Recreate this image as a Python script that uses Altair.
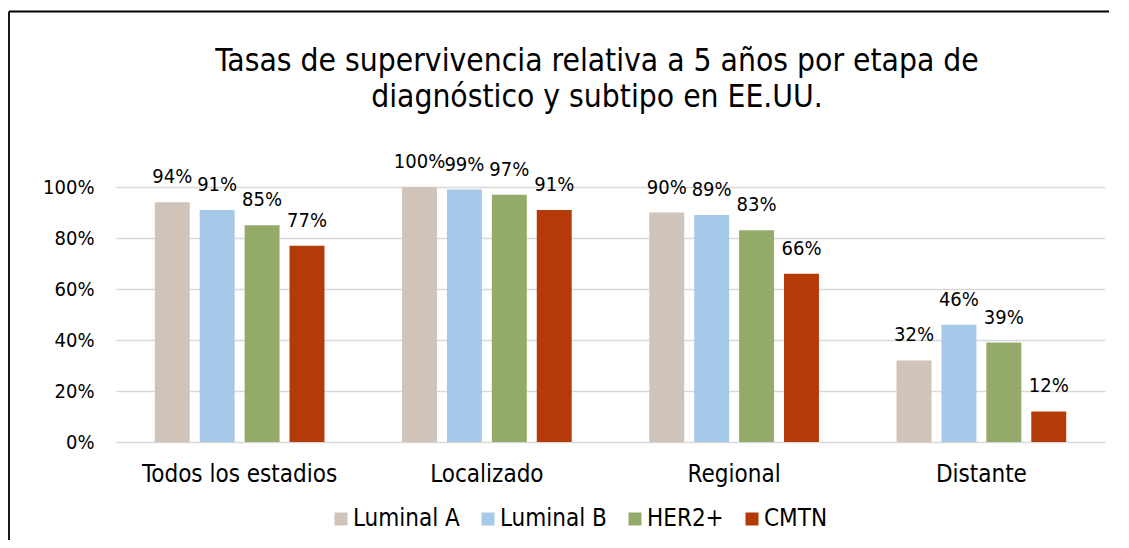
import altair as alt
import pandas as pd

categories = ["Todos los estadios", "Localizado", "Regional", "Distante"]
series = ["Luminal A", "Luminal B", "HER2+", "CMTN"]
colors = ["#D0C3BA", "#A6C9EA", "#94AA68", "#B43A08"]
luminal_a = [0.94, 1.00, 0.90, 0.32]
luminal_b = [0.91, 0.99, 0.89, 0.46]
her2 = [0.85, 0.97, 0.83, 0.39]
cmtn = [0.77, 0.91, 0.66, 0.12]
title_lines = ["Tasas de supervivencia relativa a 5 años por etapa de",
               "diagnóstico y subtipo en EE.UU."]

rows = []
for s, vals in zip(series, [luminal_a, luminal_b, her2, cmtn]):
    for c, v in zip(categories, vals):
        rows.append({"etapa": c, "subtipo": s, "valor": v})
df = pd.DataFrame(rows)

FONT = "DejaVu Sans Condensed"
W, H = 989, 255
PAD = {"left": 108, "top": 179, "right": 4, "bottom": 98}

base = alt.Chart(df)

x = alt.X("etapa:N", sort=categories, title=None,
          scale=alt.Scale(paddingInner=0.2735, paddingOuter=0.13675),
          axis=alt.Axis(labelAngle=0, domain=False, ticks=False, labelPadding=39,
                        labelBaseline="alphabetic", labelLimit=400,
                        labelFontSize=24, labelColor="#000", labelFont=FONT))
xoff = alt.XOffset("subtipo:N", sort=series,
                   scale=alt.Scale(paddingInner=0.222, paddingOuter=0.111))
y = alt.Y("valor:Q", title=None,
          scale=alt.Scale(domain=[0, 1], nice=False),
          axis=alt.Axis(values=[0, 0.2, 0.4, 0.6, 0.8, 1.0], format=".0%", domain=False,
                        ticks=False, labelPadding=22, labelFontSize=20, labelColor="#000",
                        labelFont=FONT, gridColor="#D9D9D9", gridWidth=1.5))
color = alt.Color("subtipo:N", sort=series,
                  scale=alt.Scale(domain=series, range=colors),
                  legend=alt.Legend(title=None, orient="none", direction="horizontal",
                                    columns=4, legendX=213, legendY=320, symbolType="square",
                                    symbolSize=169, symbolStrokeWidth=0, labelFontSize=24,
                                    labelFont=FONT, labelColor="#000", labelOffset=0,
                                    columnPadding=16, padding=0, gridAlign="none",
                                    labelLimit=400))

bars = base.mark_bar().encode(x=x, xOffset=xoff, y=y, color=color)
labels = base.mark_text(baseline="alphabetic", dy=-19, fontSize=20, font=FONT,
                        color="#000").encode(
    x=x, xOffset=xoff, y=y, text=alt.Text("valor:Q", format=".0%"))

title_df = pd.DataFrame({"linea": title_lines, "orden": [0, 1]})
title = alt.Chart(title_df).transform_calculate(
    py="-116 + datum.orden * 36").mark_text(
    fontSize=31.5, font=FONT, color="#000", align="center", baseline="alphabetic").encode(
    x=alt.value(481),
    y=alt.Y("py:Q", scale=None),
    text="linea:N")

one = pd.DataFrame({"a": [0]})
frame_left = alt.Chart(one).mark_rule(color="#000", strokeWidth=1.8).encode(
    x=alt.value(-107), y=alt.value(-175.5), y2=alt.value(H + PAD["bottom"]))
frame_top = alt.Chart(one).mark_rule(color="#000", strokeWidth=1.8).encode(
    x=alt.value(-107), x2=alt.value(W + PAD["right"]), y=alt.value(-175.5))

chart = alt.layer(frame_left, frame_top, bars, labels, title).properties(
    width=W, height=H,
    autosize=alt.AutoSizeParams(type="none"),
    padding=PAD,
).configure(background="white").configure_view(stroke=None)

chart.save("out.html", embed_options={"renderer": "svg", "actions": False})
